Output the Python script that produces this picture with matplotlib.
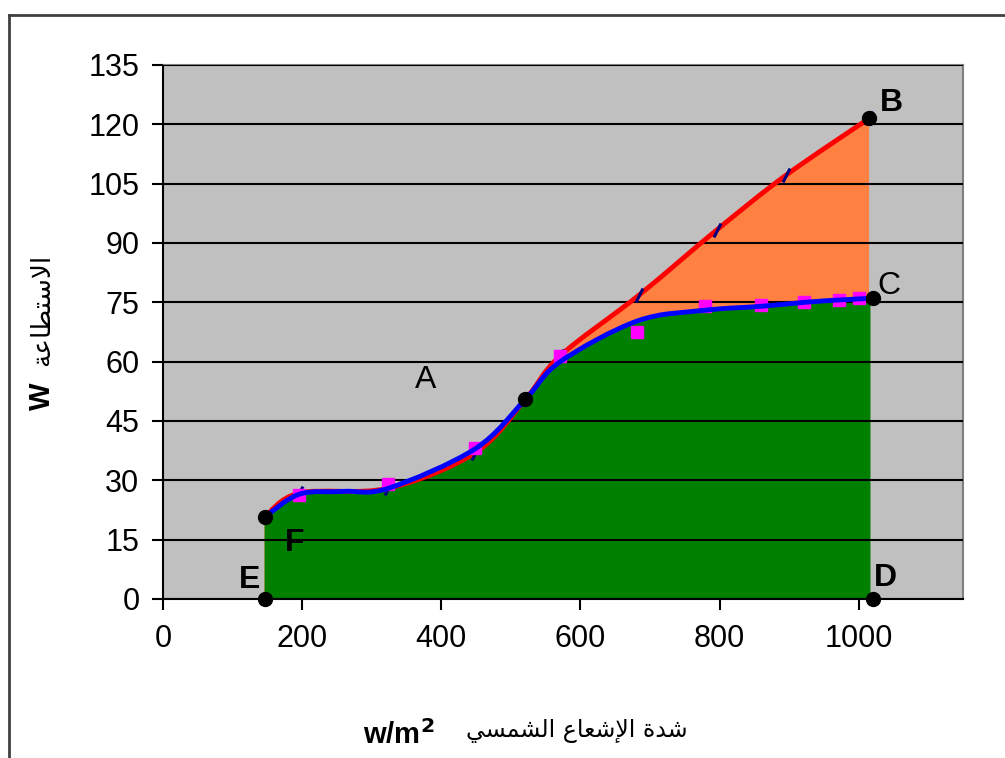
import numpy as np
import matplotlib
matplotlib.use('Agg')
import matplotlib.pyplot as plt
from matplotlib.path import Path
from matplotlib.patches import PathPatch
from matplotlib.lines import Line2D

# upper (red) curve knots
red_x = [146, 196, 324, 449, 521, 571, 684, 796, 896, 1015]
red_y = [20.7, 26.8, 28.0, 37.0, 50.5, 61.5, 76.8, 93.3, 107.2, 121.5]

# lower (blue) curve knots
blue_x = [146, 196, 260, 324, 449, 521, 571, 682, 779, 860, 922, 972, 1017]
blue_y = [20.7, 26.5, 27.2, 28.0, 38.0, 50.5, 60.0, 70.3, 73.0, 74.0, 75.0, 75.6, 76.0]

# measured points (squares)
meas_x = [196, 324, 449, 571, 682, 779, 860, 922, 972, 1001]
meas_y = [26.3, 29.0, 38.2, 61.4, 67.5, 74.0, 74.3, 75.0, 75.6, 76.1]

# corner points of the regions
key_x = [146, 146, 521, 1015, 1020, 1020]
key_y = [0, 20.7, 50.5, 121.5, 76.0, 0]

letters = ['A', 'B', 'C', 'D', 'E', 'F']
letter_x = [378, 1047, 1044, 1038, 124, 189]
letter_y = [55.4, 125.4, 79.1, 5.3, 4.8, 14.1]
letter_bold = [False, True, False, True, True, True]

x_ticks = [0, 200, 400, 600, 800, 1000]
y_ticks = list(range(0, 136, 15))

xlabel_unit = r'w/m$^\mathbf{2}$'
xlabel_ar = 'شدة الإشعاع الشمسي'
ylabel_unit = 'W'
ylabel_ar = 'الاستطاعة'


# Arabic presentation forms: (isolated, final[, initial, medial])
FORMS = {
    'ا': (0xFE8D, 0xFE8E),
    'إ': (0xFE87, 0xFE88),
    'د': (0xFEA9, 0xFEAA),
    'ة': (0xFE93, 0xFE94),
    'ت': (0xFE95, 0xFE96, 0xFE97, 0xFE98),
    'س': (0xFEB1, 0xFEB2, 0xFEB3, 0xFEB4),
    'ش': (0xFEB5, 0xFEB6, 0xFEB7, 0xFEB8),
    'ط': (0xFEC1, 0xFEC2, 0xFEC3, 0xFEC4),
    'ع': (0xFEC9, 0xFECA, 0xFECB, 0xFECC),
    'ل': (0xFEDD, 0xFEDE, 0xFEDF, 0xFEE0),
    'م': (0xFEE1, 0xFEE2, 0xFEE3, 0xFEE4),
    'ي': (0xFEF1, 0xFEF2, 0xFEF3, 0xFEF4),
}
LAM_ALEF = {'ا': (0xFEFB, 0xFEFC), 'إ': (0xFEF9, 0xFEFA)}


def shape_word(word):
    tokens = []
    i = 0
    while i < len(word):
        if word[i] == 'ل' and i + 1 < len(word) and word[i + 1] in LAM_ALEF:
            tokens.append(LAM_ALEF[word[i + 1]])
            i += 2
        else:
            tokens.append(FORMS[word[i]])
            i += 1
    out = []
    for k, forms in enumerate(tokens):
        prev_joins = k > 0 and len(tokens[k - 1]) == 4
        next_joins = k < len(tokens) - 1 and len(forms) == 4
        if prev_joins and next_joins:
            code = forms[3]
        elif prev_joins:
            code = forms[1]
        elif next_joins:
            code = forms[2]
        else:
            code = forms[0]
        out.append(chr(code))
    return ''.join(out)


def arabic(text):
    # shape each word, then flip to left-to-right drawing order
    shaped = ' '.join(shape_word(w) for w in text.split(' '))
    return shaped[::-1]


def smooth(xs, ys):
    pts = np.column_stack([xs, ys]).astype(float)
    n = len(pts)
    verts = [pts[0]]
    codes = [Path.MOVETO]
    for i in range(n - 1):
        p0 = pts[max(i - 1, 0)]
        p1, p2 = pts[i], pts[i + 1]
        p3 = pts[min(i + 2, n - 1)]
        verts += [p1 + (p2 - p0) / 6, p2 - (p3 - p1) / 6, p2]
        codes += [Path.CURVE4] * 3
    return verts, codes


def curve_patch(ax, xs, ys, color, lw, z):
    verts, codes = smooth(xs, ys)
    ax.add_patch(PathPatch(Path(verts, codes), fill=False, edgecolor=color,
                           lw=lw, capstyle='round', joinstyle='round',
                           zorder=z, transform=ax.transData))


def area_patch(ax, xs, ys, color, z):
    verts, codes = smooth(xs, ys)
    verts = [(xs[0], 0)] + verts + [(xs[-1], 0), (xs[0], 0)]
    codes = [Path.MOVETO, Path.LINETO] + codes[1:] + [Path.LINETO, Path.CLOSEPOLY]
    ax.add_patch(PathPatch(Path(verts, codes), facecolor=color, edgecolor='none',
                           zorder=z, transform=ax.transData))


plt.rcParams['font.family'] = ['Liberation Sans', 'DejaVu Sans']
plt.rcParams['mathtext.default'] = 'bf'

fig = plt.figure(figsize=(10.05, 7.58), dpi=100)
ax = fig.add_axes([163 / 1005, 159 / 758, 800 / 1005, 534 / 758])
ax.set_facecolor('#C0C0C0')

area_patch(ax, red_x, red_y, '#FF8040', 1.0)
area_patch(ax, blue_x, blue_y, '#008000', 1.1)

ax.set_axisbelow(False)
ax.yaxis.grid(True, color='black', lw=1.5)

curve_patch(ax, red_x, red_y, '#FF0000', 3.5, 3.0)
ax.plot(red_x[1:], red_y[1:], ls='none', marker=[(-0.5, -1), (0.5, 1)], ms=10,
        mec='#000080', mew=2.2, zorder=3.1)
curve_patch(ax, blue_x, blue_y, '#0000FF', 3.5, 3.2)
ax.plot(meas_x, meas_y, ls='none', marker='s', ms=8, mfc='#FF00FF',
        mec='#FF00FF', zorder=3.15)
ax.plot(key_x, key_y, ls='none', marker='o', ms=10, color='black',
        zorder=4, clip_on=False)

for t, lx, ly, bold in zip(letters, letter_x, letter_y, letter_bold):
    ax.text(lx, ly, t, fontsize=23, fontweight='bold' if bold else 'normal',
            ha='center', va='center', zorder=5)

ax.set_xlim(0, 1150)
ax.set_ylim(0, 135)
ax.set_xticks(x_ticks)
ax.set_yticks(y_ticks)
ax.tick_params(direction='out', length=8, width=1.5, labelsize=22,
               colors='black')
ax.tick_params(axis='x', pad=10)
ax.tick_params(axis='y', pad=9)

for side in ['left', 'bottom']:
    ax.spines[side].set_color('black')
    ax.spines[side].set_linewidth(1.5)
for side in ['top', 'right']:
    ax.spines[side].set_color('#808080')
    ax.spines[side].set_linewidth(1.5)

# axis titles: bold unit next to the Arabic text
fig.text(434 / 1005, 1 - 735 / 758, xlabel_unit, fontsize=21, fontweight='bold',
         ha='right', va='center')
fig.text(466 / 1005, 1 - 731 / 758, arabic(xlabel_ar), fontsize=17,
         family='DejaVu Sans', ha='left', va='center')
fig.text(42 / 1005, 1 - 396 / 758, ylabel_unit, fontsize=21, fontweight='bold',
         rotation=90, ha='center', va='center')
fig.text(42 / 1005, 1 - 310 / 758, arabic(ylabel_ar), fontsize=19,
         family='DejaVu Sans', rotation=90, ha='center', va='center')

# chart frame
fx, fy = 9 / 1005, 1 - 15 / 758
fig.add_artist(Line2D([fx, fx], [0, fy], color='#404040', lw=2))
fig.add_artist(Line2D([fx, 1], [fy, fy], color='#404040', lw=2))

fig.savefig('out.png', dpi=100)
